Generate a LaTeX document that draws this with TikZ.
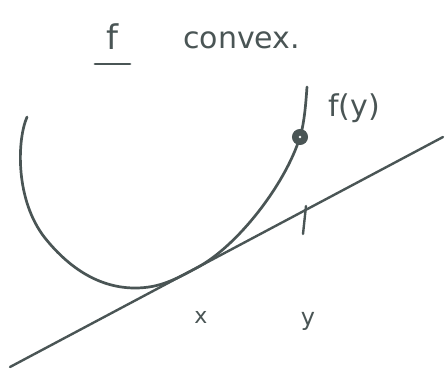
\documentclass[tikz,border=0pt]{standalone}
\usepackage{fontspec}
\setmainfont{DejaVu Sans}
\definecolor{ink}{HTML}{4A5555}
\begin{document}
\begin{tikzpicture}[x=1pt,y=-1pt,
  pen/.style={draw=ink,line width=2.7pt,line cap=round,line join=round},
  lbl/.style={text=ink,inner sep=0pt}]
\useasboundingbox (0,0) rectangle (447,369);
% convex curve, tangent to the line at x
\coordinate (c0) at (27,117);
\coordinate (c1) at (45,238);
\coordinate (c2) at (135,288);
\coordinate (tx) at (197,267.7);
\coordinate (c4) at (300,137);
\coordinate (c5) at (307,87);
\draw[pen] (c0) .. controls (17,140) and (15,200) .. (c1)
  .. controls (65,263) and (95,288) .. (c2)
  .. controls (160,288) and (175,279.4) .. (tx)
  .. controls (237,246.5) and (285,185) .. (c4)
  .. controls (304.7,122) and (306,100) .. (c5);
% tangent line
\coordinate (t1) at (10,367);
\coordinate (t2) at (443,137);
\draw[pen,line width=2.4pt] (t1) -- (t2);
% tick at y
\coordinate (k1) at (306,206);
\coordinate (k2) at (303,234);
\draw[pen,line width=2.4pt] (k1) -- (k2);
% point f(y)
\node[circle,draw=ink,fill=ink,line width=1pt,minimum size=15pt,inner sep=0pt] (p) at (c4) {};
\fill[white] (p.center) circle (1.3pt);
% labels
\node[lbl,font=\fontsize{34}{34}\selectfont] (f) at (112,37) {f};
\coordinate (u1) at (95,64);
\coordinate (u2) at (130,64);
\draw[pen] (u1) -- (u2);
\node[lbl,font=\fontsize{30}{30}\selectfont,anchor=west] (cv) at (183,40) {convex.};
\node[lbl,font=\fontsize{30}{30}\selectfont,anchor=west] (fy) at (328,108) {f(y)};
\node[lbl,font=\fontsize{22}{22}\selectfont] (x) at (201,317) {x};
\node[lbl,font=\fontsize{24}{24}\selectfont] (y) at (308,321) {y};
\end{tikzpicture}
\end{document}
